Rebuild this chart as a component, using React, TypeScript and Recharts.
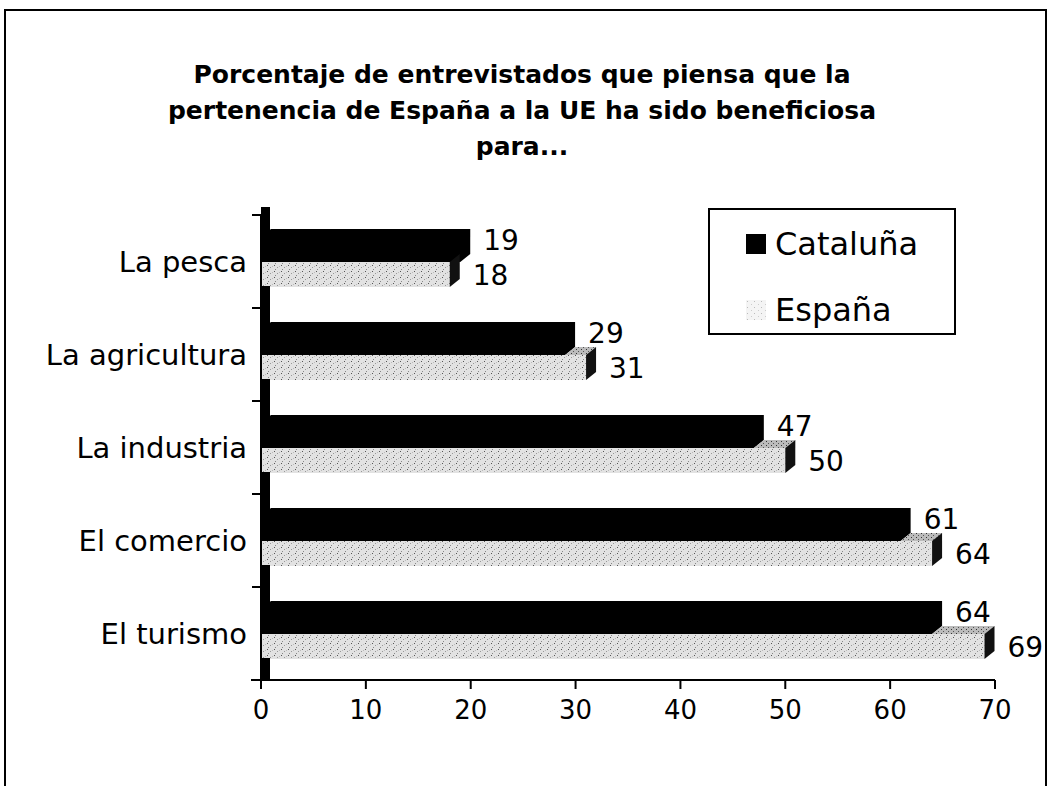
import React from 'react';
import { Bar, BarChart, LabelList, Legend, XAxis, YAxis } from 'recharts';

const categories = ['La pesca', 'La agricultura', 'La industria', 'El comercio', 'El turismo'];
const cataluna = [19, 29, 47, 61, 64];
const espana = [18, 31, 50, 64, 69];
const xTicks = [0, 10, 20, 30, 40, 50, 60, 70];

const rows = categories.map((name, i) => ({ name, cataluna: cataluna[i], espana: espana[i] }));

const FONT = '"DejaVu Sans", Verdana, sans-serif';
const BAR = 25;
const DX = 10;
const DY = 8;
const WALL = 9;

function YTick(props: any) {
  const { x, y, payload, index, visibleTicksCount } = props;
  const pl = x + 14;
  const off = payload?.offset ?? 46.5;
  const top = y - off;
  const bottom = y + off;
  const groupTop = top + Math.floor((2 * off - 2 * BAR) / 2);
  const espTop = groupTop + BAR;
  const espBot = groupTop + 2 * BAR;
  const wallTop = index === 0 ? top - DY : top;
  return (
    <g>
      <rect x={pl} y={wallTop} width={WALL} height={espTop - wallTop} fill="#000" />
      <rect x={pl} y={espBot} width={WALL} height={bottom - espBot} fill="#000" />
      <line x1={pl} x2={pl} y1={top} y2={bottom} stroke="#000" strokeWidth={2} />
      <line x1={pl - 9} x2={pl} y1={top} y2={top} stroke="#000" strokeWidth={2} />
      {index === visibleTicksCount - 1 && (
        <line x1={pl - 10} x2={pl} y1={bottom} y2={bottom} stroke="#000" strokeWidth={2} />
      )}
      <text
        x={x}
        y={y}
        textAnchor="end"
        dominantBaseline="central"
        fontSize={29}
        fontFamily={FONT}
        fill="#000"
      >
        {payload.value}
      </text>
    </g>
  );
}

// black 3D bar: front face + top and right faces
function CatShape(props: any) {
  const { x, y, width, height } = props;
  const x2 = x + width;
  const d = `M${x},${y} L${x + DX},${y - DY} L${x2 + DX},${y - DY} L${x2 + DX},${y + height - DY} L${x2},${y + height} L${x},${y + height} Z`;
  return <path d={d} fill="#000" />;
}

// speckled grey 3D bar; its top face only shows past the black bar above it
function EspShape(props: any) {
  const { x, y, width, height, payload } = props;
  const x2 = x + width;
  const ppu = payload.espana ? width / payload.espana : 0;
  const catEnd = x + payload.cataluna * ppu;
  return (
    <g>
      <rect x={x} y={y} width={width} height={height} fill="url(#speckle)" />
      {x2 > catEnd && (
        <path
          d={`M${catEnd},${y} L${catEnd + DX},${y - DY} L${x2 + DX},${y - DY} L${x2},${y} Z`}
          fill="url(#speckleDark)"
        />
      )}
      <path
        d={`M${x2},${y} L${x2 + DX},${y - DY} L${x2 + DX},${y + height - DY} L${x2},${y + height} Z`}
        fill="#111"
      />
    </g>
  );
}

function makeLabel(dy: number) {
  return (p: any) => {
    const vb = p.viewBox || p;
    const { x, y, width, height } = vb;
    return (
      <text
        x={x + width + 23}
        y={y + height / 2 + dy}
        dominantBaseline="central"
        fontSize={28}
        fontFamily={FONT}
        fill="#000"
      >
        {p.value}
      </text>
    );
  };
}

function LegendBox(props: any) {
  const items = props.payload || [];
  return (
    <div
      style={{
        border: '2px solid #000',
        background: '#fff',
        boxSizing: 'border-box',
        width: 248,
        height: 127,
        padding: '1px 0 0 36px',
        fontFamily: FONT,
        fontSize: 32,
        color: '#000',
      }}
    >
      {items.map((it: any) => (
        <div key={it.value} style={{ display: 'flex', alignItems: 'center', height: 66 }}>
          <svg width={20} height={20} style={{ marginRight: 9 }}>
            {it.value === 'Cataluña' ? (
              <rect width={20} height={20} fill="#000" />
            ) : (
              <rect width={20} height={20} fill="url(#speckleLight)" />
            )}
          </svg>
          <span>{it.value}</span>
        </div>
      ))}
    </div>
  );
}

export default function App() {
  return (
    <div style={{ position: 'absolute', left: 0, top: 0, width: 1050, height: 786, overflow: 'hidden', background: '#fff' }}>
      <svg width={0} height={0} style={{ position: 'absolute' }}>
        <defs>
          <pattern id="speckleLight" width={7} height={6} patternUnits="userSpaceOnUse">
            <rect width={7} height={6} fill="#f4f4f4" />
            <rect x={1} y={1} width={1} height={1} fill="#bbb" />
            <rect x={5} y={4} width={1} height={1} fill="#ccc" />
          </pattern>
        </defs>
      </svg>
      <div
        style={{
          position: 'absolute',
          left: 4,
          top: 9,
          width: 1043,
          height: 840,
          border: '2px solid #000',
          boxSizing: 'border-box',
        }}
      />
      <div
        style={{
          position: 'absolute',
          left: 0,
          top: 57,
          width: 1044,
          textAlign: 'center',
          fontFamily: FONT,
          fontWeight: 'bold',
          fontSize: 25,
          lineHeight: '36px',
          color: '#000',
        }}
      >
        Porcentaje de entrevistados que piensa que la
        <br />
        pertenencia de España a la UE ha sido beneficiosa
        <br />
        para...
      </div>
      <div style={{ position: 'absolute', left: 0, top: 0 }}>
        <BarChart
          layout="vertical"
          data={rows}
          width={1050}
          height={786}
          margin={{ top: 215, right: 55, bottom: 66, left: 11 }}
          barSize={BAR}
          barGap={0}
        >
          <defs>
            <pattern id="speckle" width={7} height={6} patternUnits="userSpaceOnUse">
              <rect width={7} height={6} fill="#e2e2e2" />
              <rect x={1} y={1} width={1} height={1} fill="#555" />
              <rect x={4} y={3} width={1} height={1} fill="#999" />
              <rect x={2} y={5} width={1} height={1} fill="#888" />
              <rect x={6} y={2} width={1} height={1} fill="#bbb" />
            </pattern>
            <pattern id="speckleDark" width={5} height={4} patternUnits="userSpaceOnUse">
              <rect width={5} height={4} fill="#bbb" />
              <rect x={1} y={1} width={1} height={1} fill="#333" />
              <rect x={3} y={3} width={1} height={1} fill="#555" />
            </pattern>
          </defs>
          <XAxis
            type="number"
            domain={[0, 70]}
            ticks={xTicks}
            interval={0}
            height={40}
            tickSize={9}
            tickMargin={12}
            axisLine={{ stroke: '#000', strokeWidth: 2 }}
            tickLine={{ stroke: '#000', strokeWidth: 2 }}
            tick={{ fill: '#000', fontSize: 26, fontFamily: FONT }}
          />
          <YAxis
            type="category"
            dataKey="name"
            width={250}
            interval={0}
            tickSize={0}
            tickMargin={14}
            axisLine={false}
            tickLine={false}
            tick={<YTick />}
          />
          <Legend
            layout="horizontal"
            verticalAlign="middle"
            align="center"
            content={<LegendBox />}
            wrapperStyle={{ left: 708, top: 208, width: 248 }}
          />
          <Bar dataKey="cataluna" name="Cataluña" fill="#000" shape={<CatShape />} isAnimationActive={false}>
            <LabelList dataKey="cataluna" content={makeLabel(-9)} />
          </Bar>
          <Bar dataKey="espana" name="España" fill="#ccc" shape={<EspShape />} isAnimationActive={false}>
            <LabelList dataKey="espana" content={makeLabel(1)} />
          </Bar>
        </BarChart>
      </div>
    </div>
  );
}
